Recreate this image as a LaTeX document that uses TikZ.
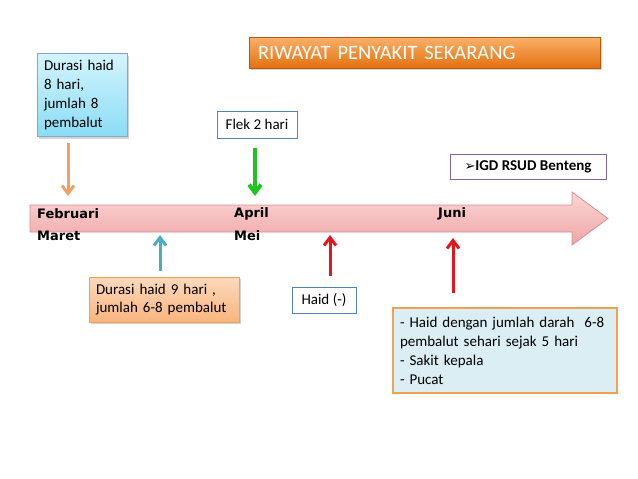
\documentclass[tikz,border=0pt]{standalone}
\usepackage{fontspec}
\setmainfont{Carlito}
\newfontfamily\dejavu{DejaVu Sans}
\usetikzlibrary{arrows.meta,shadows}
\definecolor{orangeT}{HTML}{F9B06A}
\definecolor{orangeB}{HTML}{E4700E}
\definecolor{cyanT}{HTML}{D4F4FD}
\definecolor{cyanB}{HTML}{8ADCF5}
\definecolor{peachT}{HTML}{FCD9BC}
\definecolor{peachB}{HTML}{F8B57E}
\definecolor{pinkT}{HTML}{FBD6D6}
\definecolor{pinkB}{HTML}{EFA6A6}
\definecolor{pinkD}{HTML}{D88E8C}
\definecolor{boxblue}{HTML}{4F81BD}
\definecolor{boxpurple}{HTML}{8064A2}
\definecolor{arrOrange}{HTML}{EFA064}
\definecolor{arrGreen}{HTML}{1EC51E}
\definecolor{arrBlue}{HTML}{4BACC6}
\definecolor{arrRed}{HTML}{E3161B}
\definecolor{lightblue}{HTML}{DBEEF4}
\definecolor{borderOr}{HTML}{F0A050}
\begin{document}
\begin{tikzpicture}[x=1pt,y=-1pt,
  txt/.style={font=\fontsize{15}{19}\selectfont},
  plainbox/.style={draw=boxblue, line width=1pt, fill=white, txt, inner sep=0pt},
  shadowbox/.style={drop shadow={shadow xshift=2pt,shadow yshift=-2pt,opacity=0.35}},
  tl/.style={font=\dejavu\bfseries\fontsize{13}{15}\selectfont, anchor=west, inner sep=0pt},
  arr/.style={line width=#1, -{Straight Barb[length=8pt,width=12pt,line width=#1]}},
]
\useasboundingbox (0,0) rectangle (638,479);

% title
\node[shadowbox, top color=orangeT, bottom color=orangeB, draw=orangeB!80!black, line width=0.6pt,
  minimum width=351pt, minimum height=31pt, text width=333pt, inner xsep=9pt, inner ysep=0pt,
  align=left, text=white, font=\fontsize{20.5}{22}\selectfont] (title) at (424.5,52.5) {RIWAYAT PENYAKIT SEKARANG};

% box 1
\node[shadowbox, top color=cyanT, bottom color=cyanB, draw=boxblue!70, line width=0.8pt,
  minimum width=90pt, minimum height=83pt, text width=76pt, inner xsep=7pt, inner ysep=0pt,
  align=left, txt] (b1) at (82,95) {Durasi haid\\8 hari,\\jumlah 8\\pembalut};

% flek
\node[plainbox, minimum width=80pt, minimum height=27pt] (flek) at (257,124.5) {Flek 2 hari};

% IGD
\node[plainbox, draw=boxpurple, minimum width=156pt, minimum height=25pt,
  font=\bfseries\fontsize{15}{17}\selectfont] (igd) at (528,166.5) {{\dejavu\mdseries\fontsize{13}{15}\selectfont ➢}IGD RSUD Benteng};

% timeline
\draw[top color=pinkT, bottom color=pinkB, draw=pinkD, line width=0.8pt]
  (30,205) -- (572,205) -- (572,192) -- (608,218.5) -- (572,245) -- (572,232) -- (30,232) -- cycle;
\node[tl] (feb) at (37,214) {Februari};
\node[tl] (mar) at (37,236) {Maret};
\node[tl] (apr) at (234,214) {April};
\node[tl] (mei) at (234,236) {Mei};
\node[tl] (jun) at (438,214) {Juni};

% box 2
\node[shadowbox, top color=peachT, bottom color=peachB, draw=borderOr, line width=0.8pt,
  minimum width=150pt, minimum height=45pt, text width=136pt, inner xsep=7pt, inner ysep=0pt,
  align=left, font=\fontsize{15}{17.5}\selectfont] (b2) at (164,299.5) {Durasi haid 9 hari ,\\jumlah 6-8 pembalut};

% haid
\node[plainbox, minimum width=64pt, minimum height=26pt] (haid) at (324,300) {Haid (-)};

% bottom box
\node[fill=lightblue, draw=borderOr, line width=1.5pt,
  minimum width=224pt, minimum height=85pt, text width=210pt, inner xsep=7pt, inner ysep=0pt,
  align=left, txt] (b3) at (505,350.5) {- Haid dengan jumlah darah~ 6-8\\pembalut sehari sejak 5 hari\\- Sakit kepala\\- Pucat};

% arrows
\coordinate (o1) at (68,143); \coordinate (o2) at (68,196);
\coordinate (g1) at (255,148); \coordinate (g2) at (255,196);
\coordinate (bl1) at (160,271); \coordinate (bl2) at (160,235);
\coordinate (r1) at (330,276); \coordinate (r2) at (330,235);
\coordinate (s1) at (453,293); \coordinate (s2) at (453,238);
\draw[arr=3pt, arrOrange] (o1) -- (o2);
\draw[arr=4pt, arrGreen] (g1) -- (g2);
\draw[arr=3pt, arrBlue] (bl1) -- (bl2);
\draw[arr=3pt, arrRed] (r1) -- (r2);
\draw[arr=3pt, arrRed] (s1) -- (s2);
\end{tikzpicture}
\end{document}
